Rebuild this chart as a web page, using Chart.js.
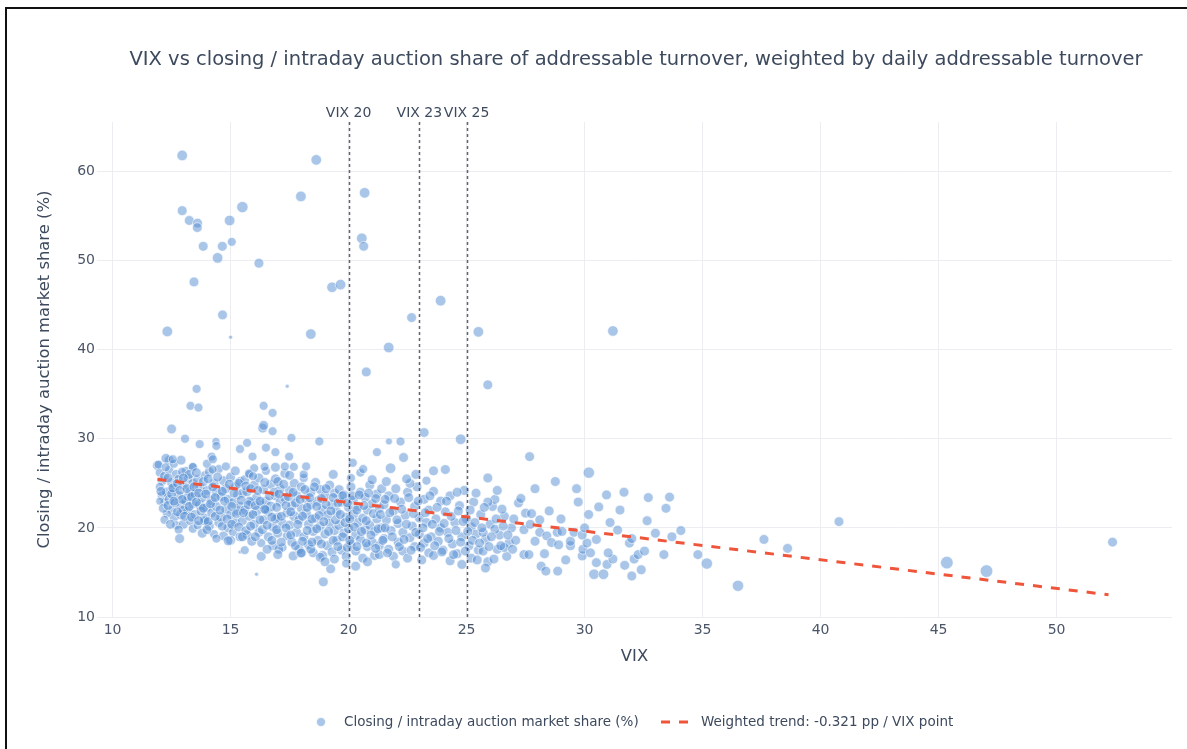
<!DOCTYPE html>
<html>
<head>
<meta charset="utf-8">
<script src="https://cdn.jsdelivr.net/npm/chart.js@4.4.1/dist/chart.umd.min.js"></script>
<style>
  html, body { margin: 0; padding: 0; background: #ffffff; }
  #wrap { position: relative; width: 1187px; height: 749px; overflow: hidden; }
  #c { position: absolute; left: 0; top: 0; }
  .frameTop { position: absolute; left: 5px; top: 7px; width: 1182px; height: 2px; background: #111; }
  .frameLeft { position: absolute; left: 5px; top: 7px; width: 2px; height: 742px; background: #111; }
</style>
</head>
<body>
<div id="wrap">
  <canvas id="c" width="1187" height="749"></canvas>
  <div class="frameTop"></div>
  <div class="frameLeft"></div>
</div>
<script>
// ---------------- DATA ----------------
// Each point: [VIX, closing/intraday auction share %, relative daily addressable turnover]
const titleText = "VIX vs closing / intraday auction share of addressable turnover, weighted by daily addressable turnover";
const xAxisTitle = "VIX";
const yAxisTitle = "Closing / intraday auction market share (%)";
const scatterLabel = "Closing / intraday auction market share (%)";
const trendLabel = "Weighted trend: -0.321 pp / VIX point";

const xTickValues = [10, 15, 20, 25, 30, 35, 40, 45, 50];
const yTickValues = [10, 20, 30, 40, 50, 60];
const vixThresholds = [20, 23, 25];
const thresholdLabels = ["VIX 20", "VIX 23", "VIX 25"];

const trendVix = [11.9, 52.2];
const trendShare = [25.45, 12.5];

const pointsVix12to13 = [
  [11.9,27.0,6],[12.0,26.2,5],[12.1,25.3,6],[12.0,24.6,5],[12.1,23.6,6],[12.2,22.9,5],[12.3,24.0,7],[12.2,25.8,6],
  [12.4,27.6,6],[12.4,26.5,5],[12.5,25.1,6],[12.4,23.2,6],[12.5,22.0,5],[12.6,21.2,6],[12.7,20.3,5],[12.6,24.4,7],
  [12.7,26.0,6],[12.8,23.6,6],[12.8,25.5,5],[12.9,22.6,6],[12.9,21.5,7],[13.0,20.4,6],[13.0,24.8,6],[13.1,23.0,6],
  [13.1,26.4,5],[13.2,21.9,6],[13.2,25.6,6],[13.3,24.1,7],[13.3,20.8,6],[13.4,22.7,6],[13.4,19.9,5],[13.4,25.0,6],
  [12.3,21.6,5],[12.0,23.0,4],[12.6,27.2,5],[12.9,27.6,6],[13.0,22.0,6],[12.8,19.8,5],[13.2,23.5,6],[12.5,23.8,6],
  [12.2,20.9,5],[13.4,26.8,5],[12.84,18.8,6]
];
const pointsVix13to15 = [
  [13.5,23.8,6],[13.5,21.5,6],[13.6,25.4,6],[13.6,20.3,5],[13.7,22.6,7],[13.7,24.6,6],[13.8,19.4,6],[13.8,23.4,6],
  [13.9,21.1,6],[13.9,25.9,5],[14.0,22.3,6],[14.0,24.2,6],[14.1,20.2,6],[14.1,26.3,6],[14.2,23.1,7],[14.2,21.7,6],
  [14.3,19.3,5],[14.3,25.0,6],[14.4,22.4,6],[14.4,24.0,6],[14.5,20.6,6],[14.5,26.6,5],[14.6,23.5,6],[14.6,21.2,7],
  [14.7,19.1,6],[14.7,25.3,6],[14.8,22.1,6],[14.8,24.4,6],[14.9,20.0,6],[14.9,23.2,6],[15.0,21.5,6],[15.0,25.7,6],
  [15.1,19.5,5],[15.1,22.8,7],[15.2,24.6,6],[15.2,20.6,6],[15.3,23.7,6],[15.3,21.9,6],[15.4,19.0,6],[15.4,25.2,6],
  [15.4,22.4,6],[14.0,27.2,5],[14.8,26.9,5],[15.2,26.4,6],[13.9,20.8,6],[14.4,18.8,5],[15.0,18.6,6],[14.9,18.55,6],
  [15.4,17.3,1],[14.2,28.0,5]
];
const pointsVix15to17 = [
  [15.5,23.9,6],[15.5,20.8,6],[15.6,22.0,6],[15.6,25.4,6],[15.7,19.2,6],[15.7,24.1,7],[15.8,21.3,6],[15.8,26.0,5],
  [15.9,22.9,6],[15.9,18.5,6],[16.0,24.8,6],[16.0,20.4,6],[16.1,21.9,7],[16.1,23.4,6],[16.2,19.5,6],[16.2,25.6,6],
  [16.3,22.6,6],[16.3,18.3,5],[16.4,24.3,6],[16.4,20.9,6],[16.5,23.0,6],[16.5,26.4,5],[16.6,19.0,6],[16.6,21.8,6],
  [16.7,24.9,6],[16.7,22.4,7],[16.8,20.1,6],[16.8,18.0,6],[16.9,23.6,6],[16.9,25.5,6],[17.0,21.2,6],[17.0,19.4,6],
  [17.1,22.9,6],[17.1,24.4,6],[17.2,20.5,6],[17.2,17.8,5],[17.3,23.3,6],[17.3,26.1,6],[17.4,21.7,6],[17.4,19.1,6],
  [16.3,16.8,6],[16.55,17.6,6],[17.05,17.6,6],[16.1,14.8,1],[15.6,17.5,5],[16.0,26.7,5],[17.0,25.2,6],[16.5,22.0,6],
  [15.8,23.0,6],[16.9,21.0,6]
];
const pointsVix17to19 = [
  [17.5,24.2,6],[17.5,20.3,6],[17.6,22.5,6],[17.6,18.4,6],[17.7,25.0,6],[17.7,21.3,7],[17.8,19.5,6],[17.8,23.6,6],
  [17.9,20.9,6],[17.9,17.6,6],[18.0,24.6,6],[18.0,22.2,6],[18.1,19.0,6],[18.1,25.6,5],[18.2,21.6,7],[18.2,23.3,6],
  [18.3,18.1,6],[18.3,20.4,6],[18.4,24.0,6],[18.4,22.6,6],[18.5,19.6,6],[18.5,17.2,6],[18.6,21.1,6],[18.6,25.1,6],
  [18.7,23.0,7],[18.7,18.6,6],[18.8,20.2,6],[18.8,24.3,6],[18.9,22.0,6],[18.9,16.9,6],[19.0,19.3,6],[19.0,23.6,6],
  [19.1,21.4,7],[19.1,18.0,6],[19.2,24.8,6],[19.2,20.5,6],[19.3,22.6,6],[19.3,17.3,6],[19.4,19.7,6],[19.4,23.9,6],
  [17.65,16.85,6],[17.97,17.15,6],[18.8,16.7,6],[18.93,13.95,6],[19.24,15.4,6],[18.4,17.6,6],[19.0,16.2,6],[18.1,26.0,5],
  [17.5,25.9,6],[19.4,16.5,6]
];
const pointsVix19to21 = [
  [19.5,21.8,6],[19.5,18.6,6],[19.6,24.3,6],[19.6,20.3,7],[19.7,22.9,6],[19.7,17.5,6],[19.8,19.4,6],[19.8,23.7,6],
  [19.9,21.2,6],[19.9,16.8,6],[20.0,22.3,6],[20.0,19.9,6],[20.1,24.6,6],[20.1,18.2,6],[20.2,21.5,7],[20.2,23.1,6],
  [20.3,19.2,6],[20.3,17.4,6],[20.4,22.4,6],[20.4,20.6,6],[20.5,24.0,6],[20.5,18.7,6],[20.6,21.1,6],[20.6,16.6,6],
  [20.7,23.4,6],[20.7,19.8,6],[20.8,22.0,6],[20.8,17.9,6],[20.9,24.8,6],[20.9,20.3,6],[21.0,18.4,6],[21.0,22.7,6],
  [21.1,19.6,6],[21.1,16.9,6],[21.2,23.8,6],[21.2,21.0,6],[21.3,18.0,6],[21.3,22.2,6],[21.4,20.0,6],[21.4,24.4,6],
  [20.1,25.6,5],[19.9,16.0,5],[20.5,26.2,5],[21.0,25.4,6],[20.8,16.2,6],[20.3,15.7,6],[21.3,17.0,6]
];
const pointsVix21to24 = [
  [21.5,22.6,6],[21.5,18.8,6],[21.6,20.9,6],[21.7,17.6,6],[21.7,23.6,6],[21.8,19.7,6],[21.9,21.9,6],[21.9,16.8,6],
  [22.0,24.4,6],[22.1,18.4,6],[22.1,20.5,6],[22.2,22.9,6],[22.3,17.4,6],[22.3,19.5,6],[22.4,21.4,6],[22.5,24.0,6],
  [22.5,16.6,6],[22.6,18.9,6],[22.7,20.2,6],[22.8,22.4,6],[22.8,17.9,6],[22.9,24.6,6],[23.0,19.3,6],[23.0,21.1,6],
  [23.1,16.4,6],[23.2,23.2,6],[23.2,18.3,6],[23.3,20.6,6],[23.4,17.2,6],[23.4,22.0,6],[23.5,19.0,6],[23.6,24.1,6],
  [23.6,16.9,6],[23.7,21.0,6],[23.8,18.5,6],[23.9,20.0,6],[23.9,23.0,6],[22.0,15.9,5],[22.6,25.0,6],[23.3,25.3,5],
  [21.6,25.2,6],[22.46,25.5,6],[22.85,26.0,6]
];
const pointsVix24to27 = [
  [24.0,17.5,6],[24.1,21.8,6],[24.2,19.5,6],[24.3,16.3,6],[24.3,23.6,6],[24.4,18.2,6],[24.5,20.6,6],[24.6,17.1,6],
  [24.7,22.5,6],[24.8,19.0,6],[24.8,15.9,6],[24.9,24.2,6],[25.0,21.0,6],[25.1,18.0,6],[25.2,20.1,6],[25.2,16.6,6],
  [25.3,22.9,6],[25.4,19.3,6],[25.5,17.5,6],[25.6,21.5,6],[25.8,18.7,6],[25.9,16.2,6],[26.0,20.4,6],[26.1,22.4,6],
  [26.3,17.6,6],[26.4,19.2,6],[26.6,21.3,6],[26.7,16.8,6],[26.8,18.3,6],[26.9,20.0,6],[25.7,19.5,6],[25.7,17.4,6],
  [26.2,23.2,6],[25.9,22.9,6],[26.3,24.2,6],[26.5,22.1,6],[26.2,19.85,6],[26.16,16.5,6],[25.8,15.5,6],[26.6,17.8,6],
  [24.6,24.0,6],[25.4,23.9,6]
];
const pointsVix27plus = [
  [27.0,21.0,6],[27.08,18.6,6],[27.2,22.8,6],[27.43,19.8,6],[27.43,17.0,6],[27.5,21.65,6],[27.64,17.0,6],[27.7,20.4,6],
  [27.75,21.6,6],[27.9,24.4,6],[27.9,18.5,6],[28.1,19.5,6],[28.16,15.7,6],[28.36,15.15,6],[28.4,19.1,6],[28.5,21.9,6],
  [28.6,18.35,6],[28.76,25.2,6],[28.84,19.5,6],[28.86,15.15,6],[28.9,18.1,6],[29.04,19.6,6],[29.4,18.0,6],[29.4,18.5,6],
  [29.55,19.5,6],[29.66,24.4,6],[29.73,22.9,6],[29.9,16.85,6],[29.93,17.6,6],[30.1,18.3,6],[30.17,21.5,6],[30.18,26.2,8],
  [30.25,17.2,6],[30.4,14.8,7],[30.5,16.1,6],[30.5,18.7,6],[30.6,22.35,6],[30.8,14.8,7],[30.93,23.7,6],[30.95,15.9,6],
  [31.08,20.6,6],[31.2,16.5,6],[31.4,19.75,6],[31.67,24.0,6],[31.7,15.8,6],[31.9,18.3,6],[32.0,14.6,6],[32.1,16.5,6],
  [32.27,17.0,6],[32.4,15.3,6],[32.54,17.4,6],[32.65,20.8,6],[32.7,23.4,6],[33.0,19.4,6],[33.36,17.0,6],[33.45,22.2,6],
  [33.6,23.45,6],[33.7,19.0,6],[34.08,19.7,6],[34.8,17.0,6],[35.18,16.0,8],[36.5,13.5,8],[37.6,18.7,6],[38.6,17.7,6],
  [40.78,20.7,6],[45.35,16.1,10],[47.03,15.15,10],[52.37,18.4,6],[27.67,28.0,6],[28.1,20.9,6],[29.0,21.0,6],[29.9,19.2,6],
  [31.0,17.2,6],[32.0,18.8,6],[27.3,23.3,6],[28.3,17.1,6],[29.2,16.4,6],[30.0,20.0,6],[31.5,22.0,6]
];
const pointsHighShare = [
  [12.95,61.8,7],[18.63,61.3,7],[17.98,57.2,7],[20.68,57.6,7],[12.95,55.6,6],[13.25,54.5,6],[13.6,54.2,6],[13.59,53.7,6],
  [14.96,54.5,7],[15.5,56.0,8],[13.84,51.6,6],[14.65,51.6,6],[15.05,52.1,5],[14.45,50.3,7],[16.2,49.7,6],[20.56,52.5,7],
  [20.64,51.6,6],[13.45,47.6,6],[19.3,47.0,7],[19.66,47.3,7],[23.9,45.5,7],[22.67,43.6,6],[14.66,43.9,6],[12.32,42.05,7],
  [18.4,41.75,7],[25.5,42.0,7],[15.0,41.4,1],[31.2,42.1,7],[17.4,35.9,1],[21.7,40.25,7],[20.75,37.5,6],[25.9,36.05,6],
  [13.56,35.6,5],[13.3,33.7,5],[13.64,33.5,5],[16.4,33.7,5],[16.78,32.9,5],[16.36,31.2,6],[16.4,31.5,6],[16.78,30.85,5],
  [12.5,31.1,6],[13.07,30.0,5],[13.69,29.4,5],[14.38,29.7,4],[14.4,29.2,5],[15.4,28.85,5],[15.7,29.55,5],[17.58,30.1,5],
  [18.76,29.7,5],[16.5,29.0,5],[16.9,28.5,5],[15.93,28.0,5],[14.25,27.7,5],[17.48,28.0,5],[18.2,26.9,5],[19.35,26.0,6],
  [13.4,26.85,5],[11.95,27.1,5],[12.26,27.8,6],[12.55,27.7,5],[14.24,26.55,5],[15.78,26.1,5],[16.44,26.85,5],[16.9,26.8,6],
  [17.3,26.9,5],[17.68,26.85,5],[20.18,27.3,5],[20.62,26.6,5],[21.71,29.7,3],[22.2,29.7,5],[21.2,28.5,5],[22.33,27.9,6],
  [21.78,26.7,7],[23.2,30.7,6],[23.6,26.4,6],[24.1,26.55,6],[24.75,29.95,7],[25.9,25.6,6]
];
const pointsDenseCore12to16 = [
  [12.05,24.1,6],[12.15,22.2,6],[12.25,26.8,5],[12.35,25.6,6],[12.35,22.5,6],[12.45,20.4,6],[12.55,24.5,6],[12.65,22.8,6],
  [12.75,25.0,6],[12.75,21.8,6],[12.85,24.2,6],[12.95,26.3,5],[12.95,23.2,6],[13.05,21.3,6],[13.15,24.4,6],[13.25,22.4,6],
  [13.25,26.0,6],[13.35,23.5,6],[13.35,21.2,6],[13.45,24.6,6],[13.55,22.9,6],[13.55,26.2,6],[13.65,20.8,6],[13.65,23.9,6],
  [13.75,21.9,6],[13.85,25.2,6],[13.85,22.2,6],[13.95,23.8,6],[14.05,20.7,6],[14.05,25.5,6],[14.15,22.7,6],[14.25,24.6,6],
  [14.35,21.3,6],[14.35,23.4,6],[14.45,25.7,6],[14.55,22.0,6],[14.65,24.1,6],[14.65,20.2,6],[14.75,23.0,6],[14.85,21.0,6],
  [14.95,24.9,6],[15.05,22.4,6],[15.05,20.4,6],[15.15,23.9,6],[15.25,21.6,6],[15.35,25.0,6],[15.35,20.1,6],[15.45,23.1,6],
  [15.55,21.7,6],[15.65,24.7,6],[15.65,19.7,6],[15.75,22.6,6],[15.85,20.2,6],[15.85,24.4,6],[15.95,21.5,6],[15.95,25.8,5],
  [13.0,25.6,6],[12.6,23.0,6],[14.0,19.8,6],[15.5,19.0,6]
];
const pointsDenseCore16to20 = [
  [16.05,22.5,6],[16.05,19.0,6],[16.15,24.2,6],[16.25,20.9,6],[16.25,23.0,6],[16.35,19.8,6],[16.45,22.1,6],[16.45,25.1,6],
  [16.55,20.3,6],[16.65,23.6,6],[16.75,21.2,6],[16.75,18.6,6],[16.85,24.0,6],[16.95,22.3,6],[16.95,19.8,6],[17.05,23.8,6],
  [17.15,21.3,6],[17.15,18.4,6],[17.25,24.9,6],[17.35,22.5,6],[17.35,20.0,6],[17.45,23.5,6],[17.55,21.8,6],[17.55,19.2,6],
  [17.65,24.0,6],[17.75,22.8,6],[17.75,18.0,6],[17.85,20.4,6],[17.95,23.2,6],[18.05,21.3,6],[18.05,18.5,6],[18.15,24.3,6],
  [18.25,22.3,6],[18.25,19.7,6],[18.35,23.4,6],[18.45,21.0,6],[18.45,18.4,6],[18.55,24.6,6],[18.65,22.4,6],[18.65,19.9,6],
  [18.75,21.4,6],[18.85,23.3,6],[18.85,18.2,6],[18.95,20.7,6],[19.05,22.6,6],[19.05,24.4,6],[19.15,19.6,6],[19.25,21.9,6],
  [19.35,23.4,6],[19.35,18.6,6],[19.45,20.9,6],[19.55,22.8,6],[19.55,17.9,6],[19.65,21.5,6],[19.75,23.6,6],[19.75,19.0,6],
  [19.85,20.6,6],[19.95,22.8,6],[19.95,17.8,6],[18.0,17.2,6],[17.0,17.0,6]
];
const pointsDenseCore20to27 = [
  [20.05,21.0,6],[20.05,18.6,6],[20.15,23.6,6],[20.25,20.1,6],[20.35,22.0,6],[20.35,17.9,6],[20.45,23.7,6],[20.55,19.6,6],
  [20.65,22.5,6],[20.75,18.3,6],[20.75,20.8,6],[20.85,23.9,6],[20.95,19.2,6],[21.05,21.6,6],[21.15,17.7,6],[21.15,23.3,6],
  [21.25,19.9,6],[21.35,21.5,6],[21.45,18.6,6],[21.55,23.2,6],[21.55,20.0,6],[21.65,17.2,6],[21.75,21.7,6],[21.85,19.0,6],
  [21.95,23.3,6],[22.05,20.9,6],[22.15,17.9,6],[22.25,22.1,6],[22.35,18.7,6],[22.45,20.4,6],[22.55,23.4,6],[22.65,17.5,6],
  [22.75,21.6,6],[22.85,19.5,6],[22.95,23.0,6],[23.05,17.8,6],[23.15,20.0,6],[23.25,21.7,6],[23.35,18.8,6],[23.45,23.6,6],
  [23.55,20.4,6],[23.65,18.0,6],[23.75,22.3,6],[23.85,19.6,6],[23.95,17.3,6],[24.05,20.5,6],[24.15,23.0,6],[24.25,18.8,6],
  [24.35,21.3,6],[24.45,17.0,6],[24.55,19.7,6],[24.65,21.9,6],[24.75,18.4,6],[24.85,20.7,6],[24.95,17.4,6],[25.05,19.6,6],
  [25.15,22.0,6],[25.25,18.6,6],[25.35,20.6,6],[25.45,16.4,6],[25.55,18.3,6],[25.65,20.0,6],[25.75,22.3,6],[25.95,17.9,6],
  [26.05,19.0,6],[26.25,21.0,6],[26.45,18.0,6],[26.55,20.2,6],[26.75,19.2,6],[26.95,17.6,6]
];

// ---------------- BUILD ----------------
const allPoints = [].concat(pointsVix12to13, pointsVix13to15, pointsVix15to17, pointsVix17to19,
  pointsVix19to21, pointsVix21to24, pointsVix24to27, pointsVix27plus, pointsHighShare,
  pointsDenseCore12to16, pointsDenseCore16to20, pointsDenseCore20to27);
const scatterData = allPoints.map(p => ({ x: p[0], y: p[1], t: p[2] }));
const trendData = trendVix.map((v, i) => ({ x: v, y: trendShare[i] }));

const FONT = "'DejaVu Sans', Verdana, sans-serif";
const TEXT = '#3d4a5e';
const TICK_TEXT = '#4a5568';
const MARKER_FILL = 'rgba(84,141,212,0.5)';
const TREND_COLOR = '#EF553B';

function radiusFor(t) { return 2.0 * Math.sqrt(t); }

const extrasPlugin = {
  id: 'extras',
  afterDatasetsDraw(chart) {
    const { ctx, chartArea, scales } = chart;
    ctx.save();
    ctx.strokeStyle = 'rgba(70,70,90,0.85)';
    ctx.lineWidth = 1.5;
    ctx.setLineDash([3, 3]);
    vixThresholds.forEach((v) => {
      const px = Math.round(scales.x.getPixelForValue(v)) + 0.5;
      ctx.beginPath();
      ctx.moveTo(px, chartArea.top);
      ctx.lineTo(px, chartArea.bottom);
      ctx.stroke();
    });
    ctx.setLineDash([]);
    ctx.fillStyle = TEXT;
    ctx.font = "14px " + FONT;
    ctx.textAlign = 'center';
    ctx.textBaseline = 'middle';
    vixThresholds.forEach((v, i) => {
      const px = scales.x.getPixelForValue(v);
      ctx.fillText(thresholdLabels[i], px, chartArea.top - 9);
    });
    ctx.restore();
  },
  afterDraw(chart) {
    const { ctx } = chart;
    ctx.save();
    ctx.fillStyle = TEXT;
    ctx.font = "19.5px " + FONT;
    ctx.textAlign = 'center';
    ctx.textBaseline = 'middle';
    ctx.fillText(titleText, 636, 60);
    const ly = 722;
    ctx.beginPath();
    ctx.arc(321, ly, 4.5, 0, Math.PI * 2);
    ctx.fillStyle = MARKER_FILL;
    ctx.fill();
    ctx.strokeStyle = 'rgba(255,255,255,0.8)';
    ctx.lineWidth = 0.8;
    ctx.stroke();
    ctx.fillStyle = TEXT;
    ctx.font = "13.5px " + FONT;
    ctx.textAlign = 'left';
    ctx.fillText(scatterLabel, 344, ly);
    ctx.strokeStyle = TREND_COLOR;
    ctx.lineWidth = 3;
    ctx.setLineDash([9, 9]);
    ctx.beginPath();
    ctx.moveTo(661, ly);
    ctx.lineTo(691, ly);
    ctx.stroke();
    ctx.setLineDash([]);
    ctx.fillText(trendLabel, 701, ly);
    ctx.restore();
  }
};

new Chart(document.getElementById('c'), {
  data: {
    datasets: [
      {
        type: 'line',
        label: trendLabel,
        data: trendData,
        borderColor: TREND_COLOR,
        borderWidth: 3,
        borderDash: [9, 9],
        pointRadius: 0,
        fill: false,
        order: 0
      },
      {
        type: 'scatter',
        label: scatterLabel,
        data: scatterData,
        backgroundColor: MARKER_FILL,
        borderColor: 'rgba(255,255,255,0.75)',
        borderWidth: 0.8,
        pointRadius: ctx => radiusFor(ctx.raw ? ctx.raw.t : 6),
        order: 1
      }
    ]
  },
  options: {
    responsive: false,
    animation: false,
    events: [],
    layout: { padding: { top: 122, right: 15, bottom: 0, left: 0 } },
    plugins: { legend: { display: false }, title: { display: false }, tooltip: { enabled: false } },
    scales: {
      x: {
        type: 'linear',
        min: 9.34,
        max: 54.89,
        afterFit(s) { s.height = 132; },
        afterBuildTicks(s) { s.ticks = xTickValues.map(v => ({ value: v })); },
        grid: { color: '#ebedf0', lineWidth: 1, drawTicks: false },
        border: { display: false },
        ticks: { color: TICK_TEXT, font: { family: FONT, size: 14 }, padding: 5, maxRotation: 0, autoSkip: false },
        title: { display: true, text: xAxisTitle, color: TEXT, font: { family: FONT, size: 16.4 }, padding: { top: 0, bottom: 82 } }
      },
      y: {
        type: 'linear',
        min: 10,
        max: 65.55,
        afterFit(s) { s.width = 97; },
        afterBuildTicks(s) { s.ticks = yTickValues.map(v => ({ value: v })); },
        grid: { color: '#ebedf0', lineWidth: 1, drawTicks: false },
        border: { display: false },
        ticks: { color: TICK_TEXT, font: { family: FONT, size: 14 }, padding: 2, autoSkip: false },
        title: { display: true, text: yAxisTitle, color: TEXT, font: { family: FONT, size: 16.4 }, padding: { top: 35, bottom: 0 } }
      }
    }
  },
  plugins: [extrasPlugin]
});
</script>
</body>
</html>
